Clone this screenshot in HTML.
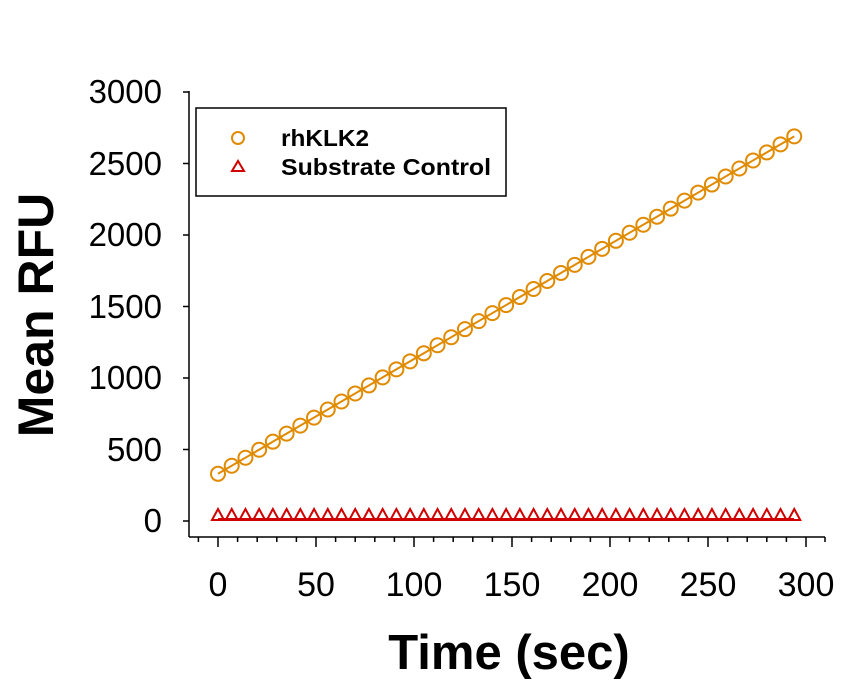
<!DOCTYPE html>
<html><head><meta charset="utf-8"><style>body{margin:0;background:#fff}svg{display:block}</style></head><body>
<svg width="868" height="687" xmlns="http://www.w3.org/2000/svg" xmlns:xlink="http://www.w3.org/1999/xlink" font-family="Liberation Sans, Arial, sans-serif">
<defs>
<circle id="c" cx="0" cy="0" r="7" fill="none" stroke="#E08A00" stroke-width="2"/>
<path id="tr" d="M-6,6 L6,6 L0,-5 Z" fill="none" stroke="#D00000" stroke-width="2"/>
</defs>
<g stroke="#000" stroke-width="1.5" fill="none">
<line x1="189" y1="91" x2="189" y2="537"/>
<line x1="189" y1="537" x2="825" y2="537"/>
<path d="M183,521H189M183,449.5H189M183,378H189M183,306.5H189M183,235H189M183,163.5H189M183,92H189"/>
<path d="M198.4,537v5M218,537v10M237.6,537v5M257.2,537v5M276.8,537v5M296.4,537v5M316,537v10M335.6,537v5M355.2,537v5M374.8,537v5M394.4,537v5M414,537v10M433.6,537v5M453.2,537v5M472.8,537v5M492.4,537v5M512,537v10M531.6,537v5M551.2,537v5M570.8,537v5M590.4,537v5M610,537v10M629.6,537v5M649.2,537v5M668.8,537v5M688.4,537v5M708,537v10M727.6,537v5M747.2,537v5M766.8,537v5M786.4,537v5M806,537v10M825,537v5"/>
</g>
<g font-size="33" text-anchor="end" fill="#000">
<text x="162" y="532">0</text><text x="162" y="461">500</text><text x="162" y="389">1000</text><text x="162" y="318">1500</text><text x="162" y="246">2000</text><text x="162" y="175">2500</text><text x="162" y="103">3000</text>
</g>
<g font-size="34" text-anchor="middle" fill="#000">
<text x="218" y="596">0</text><text x="316" y="596">50</text><text x="414" y="596">100</text><text x="512" y="596">150</text><text x="610" y="596">200</text><text x="708" y="596">250</text><text x="806" y="596">300</text>
</g>
<text x="509" y="669" font-size="49" font-weight="bold" text-anchor="middle">Time (sec)</text>
<text transform="translate(53,315) rotate(-90)" font-size="50" font-weight="bold" text-anchor="middle">Mean RFU</text>
<rect x="196" y="108" width="310" height="88" fill="#fff" stroke="#000" stroke-width="1.5"/>
<circle cx="238" cy="138" r="6" fill="none" stroke="#E08A00" stroke-width="2"/>
<path d="M232,171 L244,171 L238,161 Z" fill="none" stroke="#D00000" stroke-width="2"/>
<text x="281" y="146" font-size="23" font-weight="bold" textLength="88" lengthAdjust="spacingAndGlyphs">rhKLK2</text>
<text x="281" y="175" font-size="23" font-weight="bold" textLength="210" lengthAdjust="spacingAndGlyphs">Substrate Control</text>
<line x1="218" y1="519" x2="794" y2="519" stroke="#D00000" stroke-width="2"/>
<g transform="translate(0,514)">
<use xlink:href="#tr" x="218"/><use xlink:href="#tr" x="231.72"/><use xlink:href="#tr" x="245.44"/><use xlink:href="#tr" x="259.16"/><use xlink:href="#tr" x="272.88"/><use xlink:href="#tr" x="286.6"/><use xlink:href="#tr" x="300.32"/><use xlink:href="#tr" x="314.04"/><use xlink:href="#tr" x="327.76"/><use xlink:href="#tr" x="341.48"/><use xlink:href="#tr" x="355.2"/><use xlink:href="#tr" x="368.92"/><use xlink:href="#tr" x="382.64"/><use xlink:href="#tr" x="396.36"/><use xlink:href="#tr" x="410.08"/><use xlink:href="#tr" x="423.8"/><use xlink:href="#tr" x="437.52"/><use xlink:href="#tr" x="451.24"/><use xlink:href="#tr" x="464.96"/><use xlink:href="#tr" x="478.68"/><use xlink:href="#tr" x="492.4"/><use xlink:href="#tr" x="506.12"/><use xlink:href="#tr" x="519.84"/><use xlink:href="#tr" x="533.56"/><use xlink:href="#tr" x="547.28"/><use xlink:href="#tr" x="561"/><use xlink:href="#tr" x="574.72"/><use xlink:href="#tr" x="588.44"/><use xlink:href="#tr" x="602.16"/><use xlink:href="#tr" x="615.88"/><use xlink:href="#tr" x="629.6"/><use xlink:href="#tr" x="643.32"/><use xlink:href="#tr" x="657.04"/><use xlink:href="#tr" x="670.76"/><use xlink:href="#tr" x="684.48"/><use xlink:href="#tr" x="698.2"/><use xlink:href="#tr" x="711.92"/><use xlink:href="#tr" x="725.64"/><use xlink:href="#tr" x="739.36"/><use xlink:href="#tr" x="753.08"/><use xlink:href="#tr" x="766.8"/><use xlink:href="#tr" x="780.52"/><use xlink:href="#tr" x="794.24"/>
</g>
<line x1="218" y1="473.8" x2="794.24" y2="136.34" stroke="#E08A00" stroke-width="2"/>
<use xlink:href="#c" x="218" y="473.81"/><use xlink:href="#c" x="231.72" y="465.78"/><use xlink:href="#c" x="245.44" y="457.74"/><use xlink:href="#c" x="259.16" y="449.71"/><use xlink:href="#c" x="272.88" y="441.67"/><use xlink:href="#c" x="286.6" y="433.64"/><use xlink:href="#c" x="300.32" y="425.6"/><use xlink:href="#c" x="314.04" y="417.57"/><use xlink:href="#c" x="327.76" y="409.53"/><use xlink:href="#c" x="341.48" y="401.5"/><use xlink:href="#c" x="355.2" y="393.46"/><use xlink:href="#c" x="368.92" y="385.43"/><use xlink:href="#c" x="382.64" y="377.39"/><use xlink:href="#c" x="396.36" y="369.36"/><use xlink:href="#c" x="410.08" y="361.32"/><use xlink:href="#c" x="423.8" y="353.29"/><use xlink:href="#c" x="437.52" y="345.25"/><use xlink:href="#c" x="451.24" y="337.22"/><use xlink:href="#c" x="464.96" y="329.18"/><use xlink:href="#c" x="478.68" y="321.15"/><use xlink:href="#c" x="492.4" y="313.11"/><use xlink:href="#c" x="506.12" y="305.08"/><use xlink:href="#c" x="519.84" y="297.04"/><use xlink:href="#c" x="533.56" y="289.01"/><use xlink:href="#c" x="547.28" y="280.97"/><use xlink:href="#c" x="561" y="272.94"/><use xlink:href="#c" x="574.72" y="264.9"/><use xlink:href="#c" x="588.44" y="256.87"/><use xlink:href="#c" x="602.16" y="248.83"/><use xlink:href="#c" x="615.88" y="240.8"/><use xlink:href="#c" x="629.6" y="232.76"/><use xlink:href="#c" x="643.32" y="224.73"/><use xlink:href="#c" x="657.04" y="216.69"/><use xlink:href="#c" x="670.76" y="208.66"/><use xlink:href="#c" x="684.48" y="200.62"/><use xlink:href="#c" x="698.2" y="192.59"/><use xlink:href="#c" x="711.92" y="184.55"/><use xlink:href="#c" x="725.64" y="176.52"/><use xlink:href="#c" x="739.36" y="168.48"/><use xlink:href="#c" x="753.08" y="160.45"/><use xlink:href="#c" x="766.8" y="152.41"/><use xlink:href="#c" x="780.52" y="144.38"/><use xlink:href="#c" x="794.24" y="136.34"/>
</svg>
</body></html>
